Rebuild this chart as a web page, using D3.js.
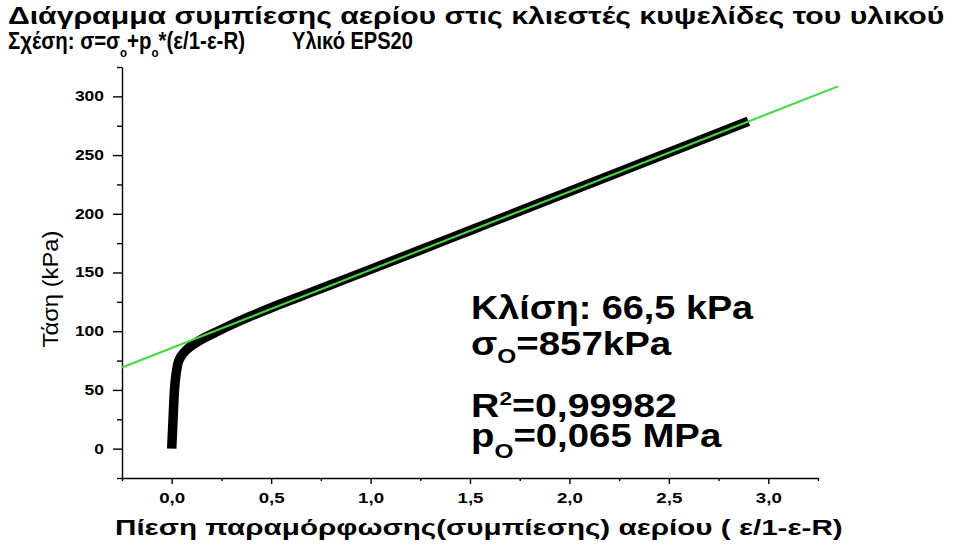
<!doctype html>
<html lang="el">
<head>
  <meta charset="utf-8">
  <title>Διάγραμμα συμπίεσης αερίου</title>
  <script src="https://cdn.jsdelivr.net/npm/d3@7"></script>
  <style type="text/css">
    body { margin: 0; background: #fff; }
    text { font-family: "Liberation Sans", Arial, sans-serif; fill: #000; }
    .tick text { font-size: 14px; font-weight: bold; }
    .axis path, .axis line { stroke: #000; stroke-width: 1.4px; }
  </style>
</head>
<body>
<div id="chart"></div>
<script type="text/javascript">

  // measured curve (strain term vs stress in kPa)
  var strain = [0.000, 0.004, 0.008, 0.012, 0.018, 0.025, 0.032, 0.045, 0.065, 0.09, 0.12, 0.16, 0.22, 0.30,
                0.40, 0.50, 0.65, 0.80, 1.00, 1.25, 1.50, 1.75, 2.00, 2.25, 2.50, 2.75, 2.90];
  var stress = [0, 15, 30, 45, 58, 67, 73, 78, 82.5, 86.5, 90, 94, 99, 105.5,
                113, 120, 129.8, 139.6, 152.7, 169.2, 185.8, 202.4, 219, 235.6, 252.2, 268.8, 278.8];

  // linear fit end points
  var fitX = [-0.25, 3.35];
  var fitY = [69.1, 308.5];

  var xTicks = [0, 0.5, 1.0, 1.5, 2.0, 2.5, 3.0];
  var xTickLabels = ["0,0", "0,5", "1,0", "1,5", "2,0", "2,5", "3,0"];
  var xMinor = [-0.25, 0.25, 0.75, 1.25, 1.75, 2.25, 2.75, 3.25];
  var yTicks = [0, 50, 100, 150, 200, 250, 300];
  var yMinor = [-25, 25, 75, 125, 175, 225, 275, 325];

  var width = 953, height = 544;

  var svg = d3.select("#chart")
    .append("svg")
    .attr("width", width)
    .attr("height", height);

  var x = d3.scaleLinear().domain([-0.25, 3.25]).range([122, 818]);
  var y = d3.scaleLinear().domain([-25, 325]).range([478, 67]);

  // text in a group that gets squeezed/stretched to a given width
  function wideText(px, py, size, weight, target) {
    var g = svg.append("g").attr("transform", "translate(" + px + "," + py + ")");
    var t = g.append("text").style("font-size", size + "px").style("font-weight", weight);
    t.fit = function() {
      var w = t.node().getBBox().width;
      g.attr("transform", "translate(" + px + "," + py + ") scale(" + (target / w) + ",1)");
      return t;
    };
    return t;
  }

  // Titles
  wideText(8, 24, 23, "bold", 937)
    .text("Διάγραμμα συμπίεσης αερίου στις κλιεστές κυψελίδες του υλικού").fit();

  var t2 = wideText(8, 49, 23, "bold", 237);
  t2.append("tspan").text("Σχέση: σ=σ");
  t2.append("tspan").attr("dy", 8).style("font-size", "13px").text("o");
  t2.append("tspan").attr("dy", -8).text("+p");
  t2.append("tspan").attr("dy", 8).style("font-size", "13px").text("o");
  t2.append("tspan").attr("dy", -8).text("*(ε/1-ε-R)");
  t2.fit();

  wideText(292, 49, 23, "bold", 121).text("Υλικό EPS20").fit();

  // Axes
  var xAxis = d3.axisBottom(x)
    .tickValues(xTicks)
    .tickFormat(function(d, i) { return xTickLabels[i]; })
    .tickSize(6).tickSizeOuter(0).tickPadding(5);
  var gx = svg.append("g")
    .attr("class", "axis")
    .attr("transform", "translate(0," + y(-25) + ")")
    .call(xAxis);
  gx.selectAll(".tick text")
    .attr("dy", "1em")
    .attr("textLength", 26)
    .attr("lengthAdjust", "spacingAndGlyphs");

  svg.append("g")
    .attr("class", "axis")
    .attr("transform", "translate(0," + y(-25) + ")")
    .call(d3.axisBottom(x).tickValues(xMinor).tickFormat("").tickSize(3).tickSizeOuter(0))
    .select(".domain").remove();

  var yAxis = d3.axisLeft(y)
    .tickValues(yTicks)
    .tickSize(9).tickSizeOuter(0).tickPadding(9);
  var gy = svg.append("g")
    .attr("class", "axis")
    .attr("transform", "translate(" + x(-0.25) + ",0)")
    .call(yAxis);
  gy.selectAll(".tick text")
    .attr("textLength", function(d) { return String(d).length * 9.7; })
    .attr("lengthAdjust", "spacingAndGlyphs");

  svg.append("g")
    .attr("class", "axis")
    .attr("transform", "translate(" + x(-0.25) + ",0)")
    .call(d3.axisLeft(y).tickValues(yMinor).tickFormat("").tickSize(5).tickSizeOuter(0))
    .select(".domain").remove();

  // Axis titles
  svg.append("text")
    .attr("transform", "translate(58,289) rotate(-90)")
    .attr("text-anchor", "middle")
    .attr("textLength", 117)
    .attr("lengthAdjust", "spacingAndGlyphs")
    .style("font-size", "22px")
    .text("Τάση (kPa)");

  wideText(115, 535, 22, "bold", 728)
    .text("Πίεση παραμόρφωσης(συμπίεσης) αερίου  ( ε/1-ε-R)").fit();

  // Measured curve
  var pts = strain.map(function(d, i) { return [d, stress[i]]; });
  svg.append("path")
    .datum(pts)
    .attr("fill", "none")
    .attr("stroke", "#000")
    .attr("stroke-width", 9.5)
    .attr("stroke-linejoin", "round")
    .attr("d", d3.line()
      .curve(d3.curveMonotoneX)
      .x(function(d) { return x(d[0]); })
      .y(function(d) { return y(d[1]); }));

  // Fit line
  svg.append("line")
    .attr("x1", x(fitX[0])).attr("y1", y(fitY[0]))
    .attr("x2", x(fitX[1])).attr("y2", y(fitY[1]))
    .attr("stroke", "#3fdc3f")
    .attr("stroke-width", 2);

  // Annotations
  wideText(471, 319, 33, "bold", 283).text("Κλίση: 66,5 kPa").fit();

  var a2 = wideText(471, 355, 33, "bold", 201);
  a2.append("tspan").text("σ");
  a2.append("tspan").attr("dy", 8).style("font-size", "21px").text("O");
  a2.append("tspan").attr("dy", -8).text("=857kPa");
  a2.fit();

  var a3 = wideText(471, 417, 33, "bold", 206);
  a3.append("tspan").text("R");
  a3.append("tspan").attr("dy", -12).style("font-size", "19px").text("2");
  a3.append("tspan").attr("dy", 12).text("=0,99982");
  a3.fit();

  var a4 = wideText(471, 447, 33, "bold", 251);
  a4.append("tspan").text("p");
  a4.append("tspan").attr("dy", 11).style("font-size", "21px").text("O");
  a4.append("tspan").attr("dy", -11).text("=0,065 MPa");
  a4.fit();

</script>
</body>
</html>
